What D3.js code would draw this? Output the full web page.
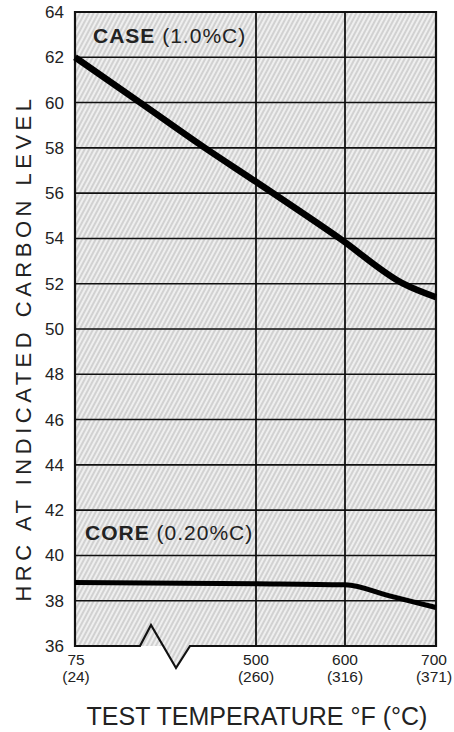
<!DOCTYPE html>
<html>
<head>
<meta charset="utf-8">
<script src="https://cdn.jsdelivr.net/npm/d3@7"></script>
<style>
  body { margin: 0; background: #fff; }
  text { font-family: "Liberation Sans", Arial, sans-serif; fill: #222; }
</style>
</head>
<body>
<div id="chart"></div>
<script>
// data
var tempF = [75, 500, 600, 700];
var tempC = [24, 260, 316, 371];
var hrcTicks = [36, 38, 40, 42, 44, 46, 48, 50, 52, 54, 56, 58, 60, 62, 64];

var caseTemps = [75, 228, 380, 500, 594, 664, 700];
var caseHrc = [62, 60, 58, 56.5, 54, 52, 51.4];

var coreTemps = [75, 500, 600, 650, 700];
var coreHrc = [38.8, 38.75, 38.7, 38.2, 37.7];

var width = 454, height = 732;
var margin = { top: 12, right: 18, bottom: 86, left: 75 };
var w = width - margin.left - margin.right;
var h = height - margin.top - margin.bottom;

var svg = d3.select('#chart')
  .append('svg')
  .attr('width', width)
  .attr('height', height);

// hatched fill like the printed chart
var defs = svg.append('defs');
var pat = defs.append('pattern')
  .attr('id', 'hatch')
  .attr('patternUnits', 'userSpaceOnUse')
  .attr('width', 4)
  .attr('height', 4)
  .attr('patternTransform', 'rotate(28)');
pat.append('rect').attr('width', 4).attr('height', 4).attr('fill', '#efefef');
pat.append('line')
  .attr('x1', 1).attr('y1', 0).attr('x2', 1).attr('y2', 4)
  .attr('stroke', '#b4b4b4').attr('stroke-width', 1);

var g = svg.append('g')
  .attr('transform', 'translate(' + margin.left + ',' + margin.top + ')');

// broken axis: 75F sits at the left edge, then 500-700 is linear
var x = d3.scaleLinear()
  .domain(tempF)
  .range([0, 181, 270, w]);

var y = d3.scaleLinear()
  .domain([36, 64])
  .range([h, 0]);

g.append('rect')
  .attr('width', w)
  .attr('height', h)
  .attr('fill', 'url(#hatch)');

// horizontal grid
g.selectAll('.hgrid')
  .data(hrcTicks.slice(1, -1))
  .enter()
  .append('line')
  .attr('class', 'hgrid')
  .attr('x1', 0).attr('x2', w)
  .attr('y1', function(d) { return y(d); })
  .attr('y2', function(d) { return y(d); })
  .attr('stroke', '#111')
  .attr('stroke-width', 1.6);

// vertical grid
g.selectAll('.vgrid')
  .data(tempF.slice(1, -1))
  .enter()
  .append('line')
  .attr('class', 'vgrid')
  .attr('x1', function(d) { return x(d); })
  .attr('x2', function(d) { return x(d); })
  .attr('y1', 0).attr('y2', h)
  .attr('stroke', '#111')
  .attr('stroke-width', 1.8);

// frame, bottom edge drawn with the break mark
var bx0 = 65, bx1 = 76, bx2 = 101, bx3 = 115;
var frame = d3.path();
frame.moveTo(x(500), h);
frame.lineTo(bx3, h);
frame.lineTo(bx2, h + 22);
frame.lineTo(bx1, h - 21);
frame.lineTo(bx0, h);
frame.lineTo(0, h);
frame.lineTo(0, 0);
frame.lineTo(w, 0);
frame.lineTo(w, h);
frame.lineTo(x(500), h);

// cover the hatch under the break notch
g.append('path')
  .attr('d', 'M' + bx0 + ',' + h + 'L' + bx1 + ',' + (h - 21) + 'L' + bx2 + ',' + (h + 22) + 'L' + bx3 + ',' + h + 'Z')
  .attr('fill', 'url(#hatch)');

g.append('path')
  .attr('d', frame.toString())
  .attr('fill', 'none')
  .attr('stroke', '#111')
  .attr('stroke-width', 2.2)
  .attr('stroke-linejoin', 'miter');

// curves
var line = d3.line()
  .x(function(d) { return x(d[0]); })
  .y(function(d) { return y(d[1]); })
  .curve(d3.curveMonotoneX);

g.append('path')
  .datum(d3.zip(caseTemps, caseHrc))
  .attr('d', line)
  .attr('fill', 'none')
  .attr('stroke', '#000')
  .attr('stroke-width', 6.5);

g.append('path')
  .datum(d3.zip(coreTemps, coreHrc))
  .attr('d', line)
  .attr('fill', 'none')
  .attr('stroke', '#000')
  .attr('stroke-width', 5);

// y axis labels
var yAxis = d3.axisLeft(y)
  .tickValues(hrcTicks)
  .tickSize(0)
  .tickPadding(11);

g.append('g')
  .call(yAxis)
  .call(function(s) { s.select('.domain').remove(); })
  .selectAll('text')
  .style('font-size', '17px')
  .style('font-family', '"Liberation Sans", Arial, sans-serif')
  .attr('fill', '#333');

// x axis labels, F over C
var xl = g.append('g')
  .selectAll('g')
  .data(tempF)
  .enter()
  .append('g')
  .attr('transform', function(d) {
    var dx = d === 75 ? 1 : (d === 700 ? -2 : 0);
    return 'translate(' + (x(d) + dx) + ',' + (h + 19) + ')';
  });

xl.append('text')
  .attr('text-anchor', 'middle')
  .style('font-size', '15.5px')
  .attr('fill', '#333')
  .text(function(d) { return d; });

xl.append('text')
  .attr('text-anchor', 'middle')
  .attr('y', 17)
  .style('font-size', '15.5px')
  .attr('fill', '#333')
  .text(function(d, i) { return '(' + tempC[i] + ')'; });

// series labels
var caseLabel = g.append('text')
  .attr('x', 18)
  .attr('y', 31)
  .style('font-size', '21px')
  .style('letter-spacing', '1px');
caseLabel.append('tspan').style('font-weight', 'bold').text('CASE');
caseLabel.append('tspan').text(' (1.0%C)');

var coreLabel = g.append('text')
  .attr('x', 10)
  .attr('y', 528)
  .style('font-size', '21px')
  .style('letter-spacing', '1px');
coreLabel.append('tspan').style('font-weight', 'bold').text('CORE');
coreLabel.append('tspan').text(' (0.20%C)');

// axis titles
svg.append('text')
  .attr('x', 257)
  .attr('y', 725)
  .attr('text-anchor', 'middle')
  .style('font-size', '25px')
  .text('TEST TEMPERATURE \u00b0F (\u00b0C)');

svg.append('text')
  .attr('transform', 'translate(31,348) rotate(-90)')
  .attr('text-anchor', 'middle')
  .style('font-size', '22px')
  .style('letter-spacing', '4.5px')
  .text('HRC AT INDICATED CARBON LEVEL');
</script>
</body>
</html>
